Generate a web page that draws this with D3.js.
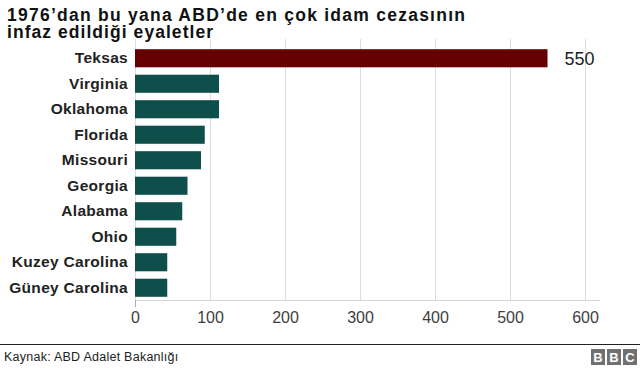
<!DOCTYPE html>
<html>
<head>
<meta charset="utf-8">
<script src="https://cdn.jsdelivr.net/npm/d3@7"></script>
<style>
  html, body { margin: 0; padding: 0; background: #fff; }
  svg { display: block; }
</style>
</head>
<body>
<svg id="chart" width="640" height="368"></svg>
<script>
const states = ["Teksas", "Virginia", "Oklahoma", "Florida", "Missouri", "Georgia", "Alabama", "Ohio", "Kuzey Carolina", "Güney Carolina"];
const executions = [550, 112, 112, 93, 88, 70, 63, 55, 43, 43];
const highlighted = ["Teksas"];
const xTicks = [0, 100, 200, 300, 400, 500, 600];
const titleLines = ["1976’dan bu yana ABD’de en çok idam cezasının", "infaz edildiği eyaletler"];
const sourceText = "Kaynak: ABD Adalet Bakanlığı";
const logoLetters = ["B", "B", "C"];

const svg = d3.select("#chart");
const data = states.map((s, i) => ({ state: s, value: executions[i] }));

const x = d3.scaleLinear().domain([0, 600]).range([135, 585]);
const y = d3.scaleBand().domain(states).range([45.5, 300.5]).paddingInner(0.29).paddingOuter(0.145);

// gridlines
svg.append("g").selectAll("line").data(xTicks).join("line")
  .attr("x1", d => Math.round(x(d)) + 0.5).attr("x2", d => Math.round(x(d)) + 0.5)
  .attr("y1", 39).attr("y2", 300)
  .attr("stroke", "#dcdcdc").attr("stroke-width", 1);

// title
const titleWidths = [458, 206];
titleLines.forEach((t, i) => {
  svg.append("text").attr("x", 7).attr("y", 21 + i * 16.5)
    .attr("font-family", "'Liberation Sans', Arial, sans-serif")
    .attr("font-weight", "bold").attr("font-size", 17.5).attr("fill", "#111")
    .attr("textLength", titleWidths[i]).attr("lengthAdjust", "spacing")
    .text(t);
});

// bars
svg.append("g").selectAll("rect").data(data).join("rect")
  .attr("x", x(0))
  .attr("y", d => y(d.state))
  .attr("width", d => x(d.value) - x(0))
  .attr("height", y.bandwidth())
  .attr("fill", d => highlighted.includes(d.state) ? "#660000" : "#0e4e4b");

// x axis
const xAxis = d3.axisBottom(x).tickValues(xTicks).tickSize(0).tickPadding(12);
const gx = svg.append("g").attr("transform", "translate(0,300)").call(xAxis);
gx.select(".domain").remove();
gx.selectAll("text").attr("font-family", "'Liberation Sans', Arial, sans-serif").attr("font-size", 16).attr("fill", "#404040");
svg.append("line").attr("x1", 135).attr("x2", 600).attr("y1", 300.5).attr("y2", 300.5).attr("stroke", "#d6d6d6");
svg.append("line").attr("x1", x(0) + 0.5).attr("x2", x(0) + 0.5).attr("y1", 300).attr("y2", 307).attr("stroke", "#aaa");

// y axis labels
const yAxis = d3.axisLeft(y).tickSize(0).tickPadding(7);
const gy = svg.append("g").attr("transform", "translate(135,0)").call(yAxis);
gy.select(".domain").remove();
gy.selectAll("text").attr("font-family", "'Liberation Sans', Arial, sans-serif").attr("font-size", 15.5)
  .attr("font-weight", "bold").attr("fill", "#222").attr("letter-spacing", 0.3);

// value label
svg.append("g").selectAll("text").data(data.filter(d => highlighted.includes(d.state))).join("text")
  .attr("x", d => x(d.value) + 17)
  .attr("y", d => y(d.state) + y.bandwidth() / 2)
  .attr("dy", "0.35em")
  .attr("font-family", "'Liberation Sans', Arial, sans-serif").attr("font-size", 18).attr("fill", "#222")
  .text(d => d.value);

// footer
svg.append("line").attr("x1", 0).attr("x2", 640).attr("y1", 344.5).attr("y2", 344.5).attr("stroke", "#222").attr("stroke-width", 1);
svg.append("text").attr("x", 4).attr("y", 361)
  .attr("font-family", "'Liberation Sans', Arial, sans-serif").attr("font-size", 12.5).attr("fill", "#222")
  .attr("letter-spacing", 0.25)
  .text(sourceText);
const logo = svg.append("g").selectAll("g").data(logoLetters).join("g")
  .attr("transform", (d, i) => `translate(${591 + i * 16},349)`);
logo.append("rect").attr("width", 14).attr("height", 16).attr("fill", "#707070");
logo.append("text").attr("x", 7).attr("y", 13).attr("text-anchor", "middle")
  .attr("font-family", "'Liberation Sans', Arial, sans-serif").attr("font-weight", "bold").attr("font-size", 13).attr("fill", "#fff")
  .text(d => d);
</script>
</body>
</html>
